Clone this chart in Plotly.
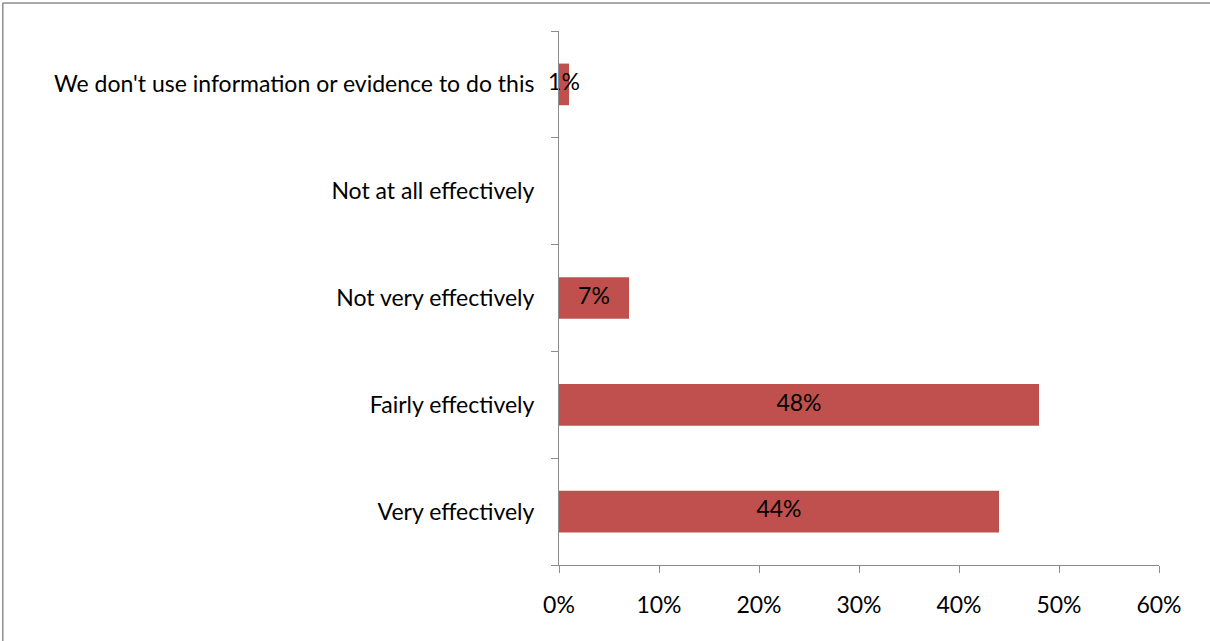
import plotly.graph_objects as go

categories = [
    "Very effectively",
    "Fairly effectively",
    "Not very effectively",
    "Not at all effectively",
    "We don't use information or evidence to do this",
]
values = [44, 48, 7, 0, 1]
labels = ["44%", "48%", "7%", "", "1%"]
x_ticks = [0, 10, 20, 30, 40, 50, 60]
x_tick_text = ["0%", "10%", "20%", "30%", "40%", "50%", "60%"]

font = "Lato, 'Open Sans', sans-serif"
grey = "#8c8c8c"

fig = go.Figure()
fig.add_trace(go.Bar(
    y=categories,
    x=values,
    orientation="h",
    marker=dict(color="#c0504d", line=dict(width=0)),
    width=0.39,
    hoverinfo="skip",
))
# data labels centred on each bar, allowed to overflow the thin ones
fig.add_trace(go.Scatter(
    y=categories,
    x=[v / 2 for v in values],
    mode="text",
    text=labels,
    textposition="middle center",
    textfont=dict(family=font, size=23, color="#000000"),
    hoverinfo="skip",
    cliponaxis=False,
))

fig.update_layout(
    width=1210, height=641,
    margin=dict(l=559, r=51, t=31, b=76),
    paper_bgcolor="white",
    plot_bgcolor="white",
    showlegend=False,
    font=dict(family=font, size=23, color="#000000"),
    shapes=[
        dict(type="line", xref="paper", yref="paper", x0=-0.927, x1=1.1, y0=1.0524, y1=1.0524,
             line=dict(color=grey, width=1.5)),
        dict(type="line", xref="paper", yref="paper", x0=-0.927, x1=-0.927, y0=-0.2, y1=1.0524,
             line=dict(color=grey, width=1.5)),
    ],
)
fig.update_xaxes(
    range=[0, 60],
    tickvals=x_ticks,
    ticktext=x_tick_text,
    showgrid=False,
    zeroline=False,
    showline=True,
    linecolor=grey,
    linewidth=1,
    ticks="outside",
    ticklen=7,
    tickcolor=grey,
    ticklabelstandoff=12,
    fixedrange=True,
)
fig.update_yaxes(
    type="category",
    categoryorder="array",
    categoryarray=categories,
    range=[-0.5, 4.5],
    tickson="boundaries",
    showgrid=False,
    showline=True,
    linecolor=grey,
    linewidth=1,
    ticks="outside",
    ticklen=7,
    tickcolor=grey,
    ticklabelstandoff=19,
    fixedrange=True,
)

fig.write_html(
    "out.html",
    config={"displayModeBar": False},
    post_script="document.body.style.margin='0';",
)
